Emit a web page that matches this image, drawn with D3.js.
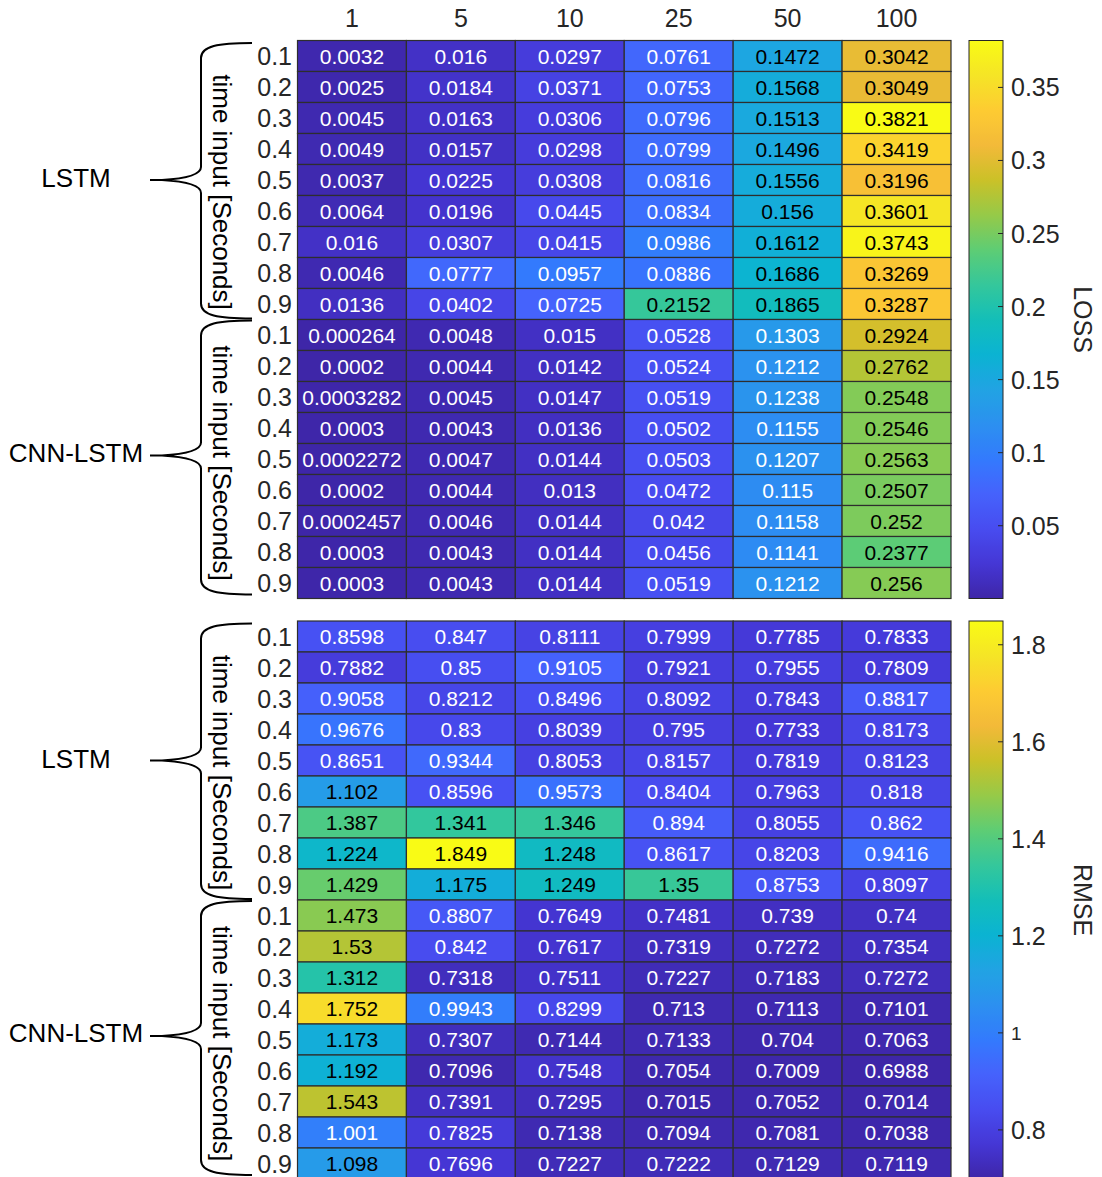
<!DOCTYPE html>
<html>
<head>
<meta charset="utf-8">
<script src="https://cdn.jsdelivr.net/npm/d3@7"></script>
<style>
  body { margin: 0; background: #fff; }
  svg { display: block; font-family: "Liberation Sans", Arial, sans-serif; }
</style>
</head>
<body>
<div id="chart"></div>
<script>
// columns and time-input steps
const cols = [1, 5, 10, 25, 50, 100];
const steps = ["0.1", "0.2", "0.3", "0.4", "0.5", "0.6", "0.7", "0.8", "0.9"];
const groups = ["LSTM", "CNN-LSTM"];

const lossLSTM = [
  [0.0032, 0.016, 0.0297, 0.0761, 0.1472, 0.3042],
  [0.0025, 0.0184, 0.0371, 0.0753, 0.1568, 0.3049],
  [0.0045, 0.0163, 0.0306, 0.0796, 0.1513, 0.3821],
  [0.0049, 0.0157, 0.0298, 0.0799, 0.1496, 0.3419],
  [0.0037, 0.0225, 0.0308, 0.0816, 0.1556, 0.3196],
  [0.0064, 0.0196, 0.0445, 0.0834, 0.156, 0.3601],
  [0.016, 0.0307, 0.0415, 0.0986, 0.1612, 0.3743],
  [0.0046, 0.0777, 0.0957, 0.0886, 0.1686, 0.3269],
  [0.0136, 0.0402, 0.0725, 0.2152, 0.1865, 0.3287]
];
const lossCNN = [
  [0.000264, 0.0048, 0.015, 0.0528, 0.1303, 0.2924],
  [0.0002, 0.0044, 0.0142, 0.0524, 0.1212, 0.2762],
  [0.0003282, 0.0045, 0.0147, 0.0519, 0.1238, 0.2548],
  [0.0003, 0.0043, 0.0136, 0.0502, 0.1155, 0.2546],
  [0.0002272, 0.0047, 0.0144, 0.0503, 0.1207, 0.2563],
  [0.0002, 0.0044, 0.013, 0.0472, 0.115, 0.2507],
  [0.0002457, 0.0046, 0.0144, 0.042, 0.1158, 0.252],
  [0.0003, 0.0043, 0.0144, 0.0456, 0.1141, 0.2377],
  [0.0003, 0.0043, 0.0144, 0.0519, 0.1212, 0.256]
];
const rmseLSTM = [
  [0.8598, 0.847, 0.8111, 0.7999, 0.7785, 0.7833],
  [0.7882, 0.85, 0.9105, 0.7921, 0.7955, 0.7809],
  [0.9058, 0.8212, 0.8496, 0.8092, 0.7843, 0.8817],
  [0.9676, 0.83, 0.8039, 0.795, 0.7733, 0.8173],
  [0.8651, 0.9344, 0.8053, 0.8157, 0.7819, 0.8123],
  [1.102, 0.8596, 0.9573, 0.8404, 0.7963, 0.818],
  [1.387, 1.341, 1.346, 0.894, 0.8055, 0.862],
  [1.224, 1.849, 1.248, 0.8617, 0.8203, 0.9416],
  [1.429, 1.175, 1.249, 1.35, 0.8753, 0.8097]
];
const rmseCNN = [
  [1.473, 0.8807, 0.7649, 0.7481, 0.739, 0.74],
  [1.53, 0.842, 0.7617, 0.7319, 0.7272, 0.7354],
  [1.312, 0.7318, 0.7511, 0.7227, 0.7183, 0.7272],
  [1.752, 0.9943, 0.8299, 0.713, 0.7113, 0.7101],
  [1.173, 0.7307, 0.7144, 0.7133, 0.704, 0.7063],
  [1.192, 0.7096, 0.7548, 0.7054, 0.7009, 0.6988],
  [1.543, 0.7391, 0.7295, 0.7015, 0.7052, 0.7014],
  [1.001, 0.7825, 0.7138, 0.7094, 0.7081, 0.7038],
  [1.098, 0.7696, 0.7227, 0.7222, 0.7129, 0.7119]
];
const lossTicks = [0.05, 0.1, 0.15, 0.2, 0.25, 0.3, 0.35];
const rmseTicks = [0.8, 1, 1.2, 1.4, 1.6, 1.8];

// parula, sampled every 16th entry
const parula = [
  [0.2422, 0.1504, 0.6603], [0.2704, 0.2138, 0.8346], [0.2813, 0.2985, 0.9397],
  [0.2710, 0.3860, 0.9898], [0.2006, 0.4803, 0.9906], [0.1716, 0.5655, 0.9393],
  [0.1288, 0.6408, 0.8910], [0.0433, 0.7039, 0.8242], [0.0770, 0.7468, 0.7224],
  [0.2061, 0.7808, 0.6065], [0.3671, 0.8021, 0.4563], [0.5886, 0.7913, 0.2833],
  [0.7945, 0.7554, 0.1570], [0.9523, 0.7284, 0.2237], [0.9938, 0.7974, 0.1974],
  [0.9601, 0.8963, 0.1507], [0.9769, 0.9839, 0.0805]
];
const colorOf = d3.piecewise(d3.interpolateRgb,
  parula.map(c => d3.rgb(c[0] * 255, c[1] * 255, c[2] * 255)));

const width = 1102, height = 1177;
const rowH = 31;
const svg = d3.select('#chart').append('svg')
  .attr('width', width)
  .attr('height', height);

const defs = svg.append('defs');
const grad = defs.append('linearGradient').attr('id', 'parula')
  .attr('x1', 0).attr('y1', 1).attr('x2', 0).attr('y2', 0);
grad.selectAll('stop').data(d3.range(0, 1.0001, 1 / 64)).enter().append('stop')
  .attr('offset', d => d)
  .attr('stop-color', d => colorOf(d));

let x = d3.scaleBand().domain(cols).range([297.5, 951]);
const fmt = d3.format('.4~g');

// column labels
svg.selectAll('.col').data(cols).enter().append('text').classed('col', true)
  .attr('x', d => x(d) + x.bandwidth() / 2)
  .attr('y', 27)
  .attr('text-anchor', 'middle')
  .attr('font-size', 25)
  .attr('fill', '#262626')
  .text(d => d);

function brace(g, yTop, yBot, ym) {
  let xr = 252, xv = 201, xt = 150;
  let p = `M${xr},${yTop} C${xr - 34},${yTop} ${xv},${yTop + 3} ${xv},${yTop + 15}`
    + ` L${xv},${ym - 13} C${xv},${ym - 4} ${xv - 22},${ym - 1} ${xt + 12},${ym} L${xt},${ym}`
    + ` M${xt + 12},${ym} C${xv - 22},${ym + 1} ${xv},${ym + 4} ${xv},${ym + 13}`
    + ` L${xv},${yBot - 15} C${xv},${yBot - 3} ${xr - 34},${yBot} ${xr},${yBot}`;
  g.append('path').attr('d', p)
    .attr('fill', 'none').attr('stroke', '#000').attr('stroke-width', 2);
}

function panel(top, lstm, cnn, ticks, label) {
  let g = svg.append('g');
  let y = d3.scaleBand().domain(d3.range(18)).range([top, top + 18 * rowH]);
  let cells = [];
  [lstm, cnn].forEach((m, k) => m.forEach((row, r) => row.forEach((v, c) => {
    cells.push({ r: k * 9 + r, c: cols[c], v: v });
  })));
  let ext = d3.extent(cells, d => d.v);
  let t = d3.scaleLinear().domain(ext).range([0, 1]);

  g.selectAll('.cell').data(cells).enter().append('rect').classed('cell', true)
    .attr('x', d => x(d.c))
    .attr('y', d => y(d.r))
    .attr('width', x.bandwidth())
    .attr('height', y.bandwidth())
    .attr('fill', d => colorOf(t(d.v)))
    .attr('stroke', '#2e2e2e')
    .attr('stroke-width', 1.2);

  g.selectAll('.lab').data(cells).enter().append('text').classed('lab', true)
    .attr('x', d => x(d.c) + x.bandwidth() / 2)
    .attr('y', d => y(d.r) + y.bandwidth() / 2)
    .attr('dy', '0.36em')
    .attr('text-anchor', 'middle')
    .attr('font-size', 21)
    .attr('fill', d => t(d.v) > 0.345 ? '#000' : '#fff')
    .text(d => fmt(d.v));

  // row tick labels
  g.selectAll('.row').data(d3.range(18)).enter().append('text').classed('row', true)
    .attr('x', 292)
    .attr('y', d => y(d) + y.bandwidth() / 2)
    .attr('dy', '0.36em')
    .attr('text-anchor', 'end')
    .attr('font-size', 25)
    .attr('fill', '#262626')
    .text(d => steps[d % 9]);

  // braces + group names
  groups.forEach((name, k) => {
    let gTop = y(k * 9), gBot = y(k * 9 + 8) + y.bandwidth();
    let gMid = (gTop + gBot) / 2;
    let y0 = k === 0 ? gTop + 2.5 : gTop + 1;
    let y1 = k === 0 ? gBot - 1 : gBot - 4;
    let ym = k === 0 ? gMid : gMid - 3.5;
    brace(g, y0, y1, ym);
    g.append('text')
      .attr('x', 76).attr('y', ym + (k === 0 ? 7 : 6))
      .attr('text-anchor', 'middle')
      .attr('font-size', 26)
      .attr('fill', '#000')
      .text(name);
    g.append('text')
      .attr('transform', `translate(222,${gMid + (k === 0 ? 12 : 4)}) rotate(90)`)
      .attr('dy', '0.36em')
      .attr('text-anchor', 'middle')
      .attr('font-size', 26)
      .attr('fill', '#000')
      .text('time input [Seconds]');
  });

  // colorbar
  let cb = d3.scaleLinear().domain(ext).range([top + 18 * rowH, top]);
  g.append('rect')
    .attr('x', 969).attr('y', top)
    .attr('width', 34).attr('height', 18 * rowH)
    .attr('fill', 'url(#parula)')
    .attr('stroke', '#262626').attr('stroke-width', 1);
  g.selectAll('.tk').data(ticks).enter().append('line').classed('tk', true)
    .attr('x1', 998).attr('x2', 1003)
    .attr('y1', d => cb(d)).attr('y2', d => cb(d))
    .attr('stroke', '#262626').attr('stroke-width', 1);
  g.selectAll('.tl').data(ticks).enter().append('text').classed('tl', true)
    .attr('x', 1011)
    .attr('y', d => cb(d))
    .attr('dy', '0.36em')
    .attr('font-size', d => (label === 'RMSE' && d === 1) ? 19 : 25)
    .attr('fill', '#262626')
    .text(d => d3.format('~g')(d));
  g.append('text')
    .attr('transform', `translate(1083,${top + 9 * rowH}) rotate(90)`)
    .attr('dy', '0.36em')
    .attr('text-anchor', 'middle')
    .attr('font-size', 25)
    .attr('fill', '#262626')
    .text(label);
}

panel(40.5, lossLSTM, lossCNN, lossTicks, 'LOSS');
panel(621, rmseLSTM, rmseCNN, rmseTicks, 'RMSE');
</script>
</body>
</html>
